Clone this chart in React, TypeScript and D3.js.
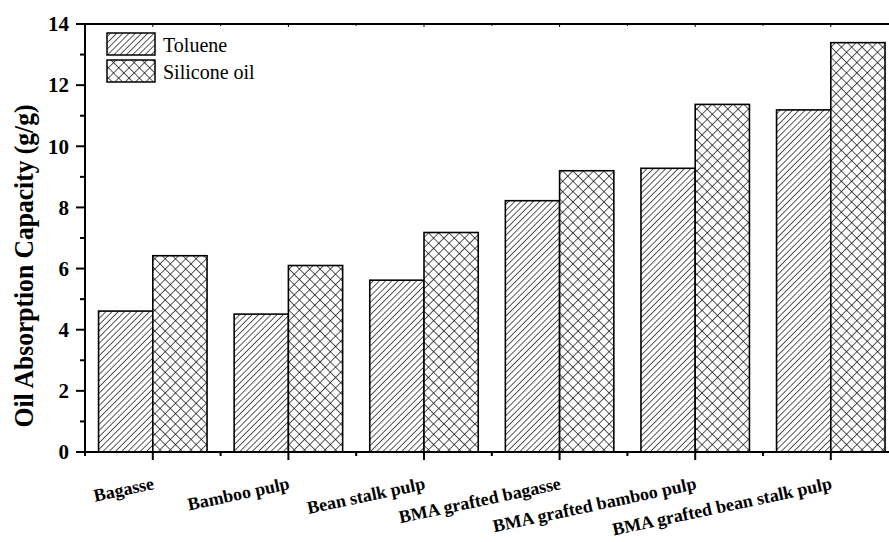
import React from "react";
import * as d3 from "d3";

const categories = [
  "Bagasse",
  "Bamboo pulp",
  "Bean stalk pulp",
  "BMA grafted bagasse",
  "BMA grafted bamboo pulp",
  "BMA grafted bean stalk pulp",
];
const toluene = [4.61, 4.51, 5.62, 8.22, 9.28, 11.19];
const siliconeOil = [6.42, 6.1, 7.18, 9.2, 11.37, 13.39];
const seriesNames = ["Toluene", "Silicone oil"];
const yMajorTicks = [0, 2, 4, 6, 8, 10, 12, 14];
const yMinorTicks = [1, 3, 5, 7, 9, 11, 13];

const W = 889;
const H = 542;
const FONT = "Liberation Serif, Times New Roman, Tinos, DejaVu Serif, serif";

export default function App() {
  const x = d3.scaleLinear().domain([0.5, 6.5]).range([85, 85 + 6 * 135.6]);
  const y = d3.scaleLinear().domain([0, 14]).range([452, 24]);
  const half = 0.4;
  const xMajor = categories.map((_, i) => i + 1);
  const xMinor = categories.map((_, i) => i + 0.5).concat([6.5]);
  const x0 = x(0.5);
  const xEnd = W + 5;

  return (
    <svg
      width={W}
      height={H}
      style={{ position: "absolute", left: 0, top: 0, background: "#fff" }}
    >
      <defs>
        <pattern
          id="hatch"
          patternUnits="userSpaceOnUse"
          width={4.4}
          height={4.4}
          patternTransform="rotate(45)"
        >
          <rect width={4.4} height={4.4} fill="#fff" />
          <line x1={0} y1={0} x2={0} y2={4.4} stroke="#000" strokeWidth={1.3} />
        </pattern>
        <pattern
          id="cross"
          patternUnits="userSpaceOnUse"
          width={7.3}
          height={7.3}
          patternTransform="rotate(45)"
        >
          <rect width={7.3} height={7.3} fill="#fff" />
          <line x1={0} y1={0} x2={0} y2={7.3} stroke="#000" strokeWidth={1.3} />
          <line x1={0} y1={0} x2={7.3} y2={0} stroke="#000" strokeWidth={1.3} />
        </pattern>
      </defs>

      {/* bars */}
      {categories.map((c, i) => {
        const cx = i + 1;
        return (
          <g key={c}>
            <rect
              x={x(cx - half)}
              y={y(toluene[i])}
              width={x(cx) - x(cx - half)}
              height={y(0) - y(toluene[i])}
              fill="url(#hatch)"
              stroke="#000"
              strokeWidth={1.6}
            />
            <rect
              x={x(cx)}
              y={y(siliconeOil[i])}
              width={x(cx + half) - x(cx)}
              height={y(0) - y(siliconeOil[i])}
              fill="url(#cross)"
              stroke="#000"
              strokeWidth={1.6}
            />
          </g>
        );
      })}

      {/* axes lines */}
      <line x1={x0} y1={y(0)} x2={xEnd} y2={y(0)} stroke="#000" strokeWidth={2} />
      <line x1={x0} y1={y(14)} x2={xEnd} y2={y(14)} stroke="#000" strokeWidth={2} />
      <line x1={x0} y1={y(14) - 1} x2={x0} y2={y(0) + 1} stroke="#000" strokeWidth={2} />

      {/* y ticks */}
      {yMajorTicks.map((t) => (
        <g key={"ym" + t}>
          <line x1={x0 - 9} x2={x0} y1={y(t)} y2={y(t)} stroke="#000" strokeWidth={2} />
          <text
            x={69}
            y={y(t)}
            dy="0.35em"
            textAnchor="end"
            fontFamily={FONT}
            fontWeight="bold"
            fontSize={21}
          >
            {t}
          </text>
        </g>
      ))}
      {yMinorTicks.map((t) => (
        <line key={"yn" + t} x1={x0 - 5} x2={x0} y1={y(t)} y2={y(t)} stroke="#000" strokeWidth={2} />
      ))}

      {/* x ticks bottom and top */}
      {xMajor.map((t) => (
        <g key={"xm" + t}>
          <line x1={x(t)} x2={x(t)} y1={y(0)} y2={y(0) + 8} stroke="#000" strokeWidth={2} />
          <line x1={x(t)} x2={x(t)} y1={y(14)} y2={y(14) + 3} stroke="#000" strokeWidth={1} />
        </g>
      ))}
      {xMinor.map((t) => (
        <g key={"xn" + t}>
          <line x1={x(t)} x2={x(t)} y1={y(0)} y2={y(0) + 4} stroke="#000" strokeWidth={2} />
          <line x1={x(t)} x2={x(t)} y1={y(14)} y2={y(14) + 2} stroke="#000" strokeWidth={1} />
        </g>
      ))}

      {/* x labels */}
      {categories.map((c, i) => (
        <text
          key={"xl" + c}
          transform={`translate(${x(i + 1) + 2},${489}) rotate(-12)`}
          textAnchor="end"
          fontFamily={FONT}
          fontWeight="bold"
          fontSize={18}
        >
          {c}
        </text>
      ))}

      {/* y label */}
      <text
        transform={`translate(33,${266}) rotate(-90)`}
        textAnchor="middle"
        fontFamily={FONT}
        fontWeight="bold"
        fontSize={27}
        textLength={323}
        lengthAdjust="spacingAndGlyphs"
      >
        Oil Absorption Capacity (g/g)
      </text>

      {/* legend */}
      {seriesNames.map((s, i) => (
        <g key={s}>
          <rect
            x={107}
            y={33 + i * 27}
            width={48}
            height={22}
            fill={i === 0 ? "url(#hatch)" : "url(#cross)"}
            stroke="#000"
            strokeWidth={1.5}
          />
          <text
            x={163}
            y={52 + i * 26.5}
            fontFamily={FONT}
            fontSize={20}
          >
            {s}
          </text>
        </g>
      ))}
    </svg>
  );
}
